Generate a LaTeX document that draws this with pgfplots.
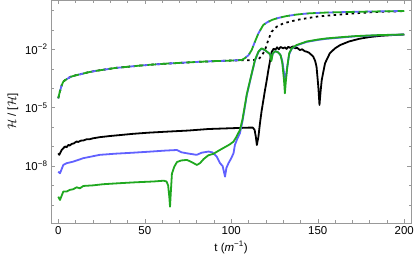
\documentclass[border=0pt]{standalone}
\usepackage{fontspec}
\setmainfont{Liberation Sans}
\usepackage{pgfplots}
\pgfplotsset{compat=1.18}
\definecolor{mgreen}{rgb}{0.12,0.66,0.12}
\definecolor{mblue}{rgb}{0.38,0.38,1.0}
\definecolor{frame}{rgb}{0.6,0.6,0.6}
\begin{document}
\begin{tikzpicture}
\begin{axis}[
  scale only axis, width=360bp, height=222.2bp,
  xmin=-4.2, xmax=203.9, ymin=-10.92, ymax=0.51,
  font=\fontsize{11.5}{13.8}\selectfont,
  /pgf/number format/assume math mode=true,
  axis line style={frame}, every tick/.style={frame},
  tick align=inside,
  major tick length=4bp, minor tick length=2.5bp,
  xtick={0,50,100,150,200}, xticklabels={0,50,100,150,200},
  minor x tick num=4,
  ytick={-8,-5,-2}, yticklabels={10\textsuperscript{−8},10\textsuperscript{−5},10\textsuperscript{−2}},
  minor ytick={-10,-9,-7,-6,-4,-3,-1,0},
  xlabel={t (\textit{m}\textsuperscript{−1})},
  ylabel={$\mathcal{H}$ / [$\mathcal{H}$]},
  every axis plot/.append style={line width=1.8bp, line join=round},
]
% black solid
\addplot[black] coordinates {
(0,-7.35)(0.6,-7.43)(2,-7.18)(2.9,-7.09)(3.9,-7.0)(4.8,-7.04)(5.8,-6.92)(6.7,-6.95)(7.7,-6.87)(9,-6.84)(10.6,-6.74)(11.5,-6.77)(13,-6.70)(14.5,-6.69)(16.4,-6.63)(18,-6.63)(20,-6.58)(24,-6.52)(30,-6.46)(36,-6.41)(43,-6.35)(52,-6.29)(62,-6.24)(75,-6.18)(87,-6.10)(100,-6.06)(110,-6.03)(112.5,-6.03)(113.5,-6.15)(114.2,-6.5)(114.8,-6.92)(115.7,-6.5)(116.6,-5.8)(117.5,-5.2)(118.5,-4.65)(119.5,-4.1)(120.5,-3.6)(121.4,-3.1)(122.4,-2.6)(123.3,-2.15)(124.5,-1.97)(125.5,-2.02)(126.5,-1.9)(127.5,-2.0)(128.5,-1.88)(130,-1.95)(131,-1.9)(132,-1.98)(133,-1.87)(134,-1.93)(135.8,-1.85)(137,-1.95)(138,-1.92)(139.7,-2.04)(141,-2.0)(142.5,-2.1)(143.6,-2.12)(145,-2.18)(146.5,-2.3)(147.4,-2.38)(148.5,-2.6)(149.3,-2.9)(150.3,-3.9)(151,-4.86)(151.6,-4.2)(152.3,-3.58)(154.2,-2.72)(157,-2.2)(160,-1.95)(163,-1.78)(168,-1.6)(174,-1.46)(180,-1.37)(186,-1.31)(193,-1.27)(200,-1.24)
};
% black dotted
\addplot[black, dash pattern=on 2.5bp off 3.5bp] coordinates {
(0,-4.52)(1,-4.15)(2,-3.85)(3,-3.65)(5,-3.53)(7,-3.42)(10,-3.34)(13,-3.28)(17,-3.19)(21,-3.12)(27,-3.04)(33,-2.96)(40,-2.90)(47,-2.84)(54,-2.79)(62,-2.74)(70,-2.70)(80,-2.65)(90,-2.61)(100,-2.58)(106,-2.56)(112,-2.56)(115.5,-2.53)(117.5,-2.35)(119.5,-2.04)(121.4,-1.52)(123.3,-1.10)(126.2,-0.84)(130,-0.67)(137.8,-0.49)(149.4,-0.32)(159,-0.24)(170,-0.16)(180,-0.10)(190,-0.06)(200,-0.04)
};
% blue solid
\addplot[mblue] coordinates {
(0,-8.29)(1,-8.38)(2.9,-7.95)(4.8,-7.86)(8.6,-7.78)(14.5,-7.6)(24,-7.43)(33,-7.37)(43,-7.32)(52,-7.27)(62,-7.21)(68.6,-7.18)(71.3,-7.30)(75,-7.36)(80,-7.43)(82.9,-7.32)(86.8,-7.26)(89,-7.3)(91.6,-7.52)(93.5,-7.86)(95,-8.0)(96.4,-8.55)(97.2,-8.1)(98.4,-7.86)(100,-7.6)(101.3,-7.35)(102.1,-6.92)(103.5,-6.6)(105,-6.32)(106.5,-5.7)(109,-4.35)(111.8,-3.28)(113.7,-2.58)(115.7,-2.14)(117.5,-1.97)(119.5,-2.05)(121,-2.15)(122.4,-2.25)(123.2,-2.5)(124,-2.22)(125.5,-2.1)(127,-2.15)(128.5,-2.3)(129.5,-2.6)(130.5,-3.2)(131.4,-3.6)(132.2,-3.0)(133.5,-2.25)(135,-1.97)(137.8,-1.8)(143.6,-1.62)(150,-1.52)(155,-1.46)(163,-1.40)(172,-1.33)(185,-1.28)(200,-1.24)
};
% blue dashed
\addplot[mblue, dash pattern=on 6bp off 7bp, dash phase=5bp] coordinates {
(0,-4.52)(1,-4.15)(2,-3.85)(3,-3.65)(5,-3.53)(7,-3.42)(10,-3.34)(13,-3.28)(17,-3.19)(21,-3.12)(27,-3.04)(33,-2.96)(40,-2.90)(47,-2.84)(54,-2.79)(62,-2.74)(70,-2.70)(80,-2.65)(90,-2.61)(100,-2.58)(106,-2.55)(108,-2.45)(110,-2.30)(111.8,-2.04)(113.5,-1.65)(115.7,-1.18)(118.5,-0.75)(121,-0.60)(123.5,-0.49)(127,-0.39)(132,-0.29)(138,-0.21)(145,-0.15)(155,-0.11)(168,-0.08)(185,-0.05)(200,-0.03)
};
% green solid
\addplot[mgreen] coordinates {
(0,-9.58)(1,-9.75)(2.9,-9.32)(4.8,-9.32)(6.7,-9.23)(8.6,-9.2)(10.6,-9.1)(12.5,-9.15)(14.5,-9.03)(20,-9.0)(26,-8.94)(35,-8.89)(45,-8.84)(55,-8.80)(61,-8.76)(62.6,-8.8)(63.5,-9.0)(64.2,-9.6)(64.6,-10.1)(65.1,-9.3)(65.7,-8.4)(67,-8.05)(68.6,-7.8)(71,-7.72)(74.4,-7.69)(77,-7.8)(80.2,-7.95)(82,-7.85)(84,-7.65)(86.8,-7.45)(89.6,-7.38)(93,-7.2)(96,-7.05)(99,-6.9)(101.3,-6.75)(103,-6.5)(105,-6.15)(106.5,-5.6)(109,-4.3)(111.8,-3.25)(113.7,-2.55)(115.7,-2.12)(117.5,-1.95)(119.5,-2.04)(121,-2.15)(122.4,-2.25)(123.2,-2.6)(124,-2.2)(125.5,-2.1)(127,-2.15)(128.5,-2.3)(129.5,-2.7)(130.5,-3.6)(131,-4.26)(131.6,-3.6)(132.4,-2.9)(133.5,-2.2)(135,-1.95)(137.8,-1.78)(143.6,-1.60)(150,-1.5)(155,-1.44)(163,-1.38)(172,-1.32)(185,-1.27)(200,-1.24)
};
% green dashed
\addplot[mgreen, dash pattern=on 9bp off 4bp] coordinates {
(0,-4.52)(1,-4.15)(2,-3.85)(3,-3.65)(5,-3.53)(7,-3.42)(10,-3.34)(13,-3.28)(17,-3.19)(21,-3.12)(27,-3.04)(33,-2.96)(40,-2.90)(47,-2.84)(54,-2.79)(62,-2.74)(70,-2.70)(80,-2.65)(90,-2.61)(100,-2.58)(106,-2.55)(108,-2.45)(110,-2.30)(111.8,-2.04)(113.5,-1.65)(115.7,-1.18)(118.5,-0.75)(121,-0.60)(123.5,-0.49)(127,-0.39)(132,-0.29)(138,-0.21)(145,-0.15)(155,-0.11)(168,-0.08)(185,-0.05)(200,-0.03)
};
\end{axis}
\pgfresetboundingbox
\useasboundingbox ([xshift=-51bp,yshift=-42.3bp]current axis.south west) rectangle ([xshift=4bp,yshift=0.5bp]current axis.north east);
\end{tikzpicture}
\end{document}
